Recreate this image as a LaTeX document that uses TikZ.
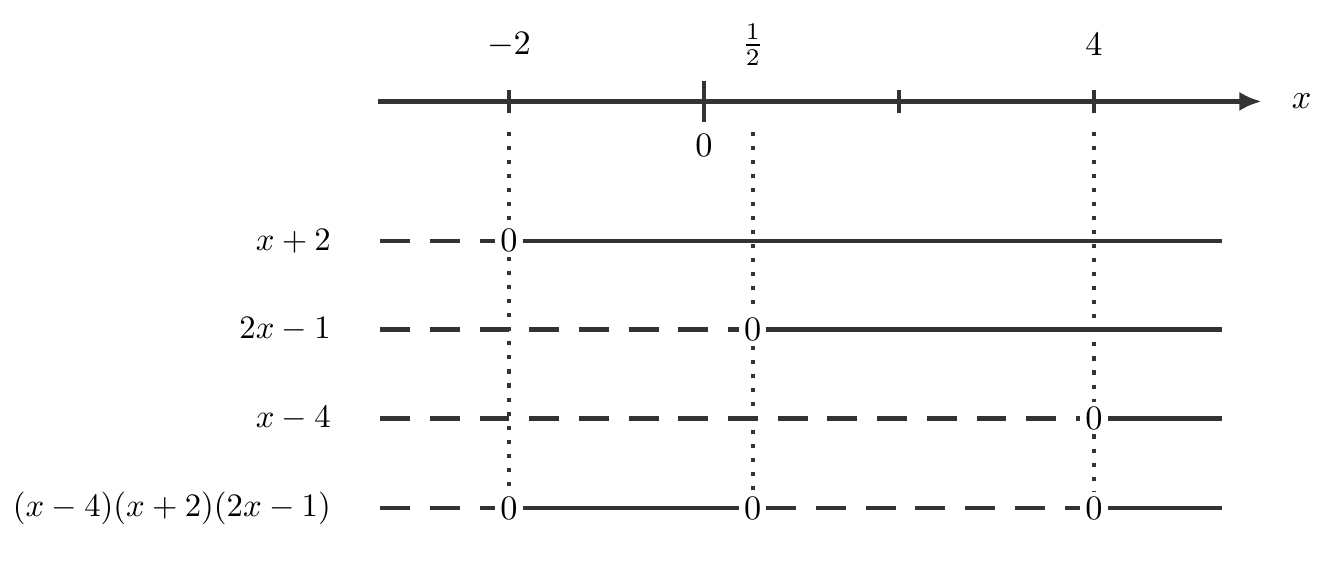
\documentclass[tikz,border=0pt]{standalone}
\usepackage{amsmath}
\usepackage{amssymb}
\usetikzlibrary{arrows.meta}
\definecolor{ink}{HTML}{333333}
\tikzset{axisline/.style={draw=ink, line width=1.3pt}}
\tikzset{signpos/.style={draw=ink, line width=1.3pt}}
\tikzset{signneg/.style={draw=ink, line width=1.3pt, dash pattern=on 8.7pt off 5.8pt}}
\tikzset{guide/.style={draw=ink, line width=1.2pt, dash pattern=on 1.2pt off 2.9pt}}
\tikzset{zero/.style={inner sep=1.3pt}}
\tikzset{factor/.style={anchor=east, inner sep=0pt, scale=0.955}}

\begin{document}
\begin{tikzpicture}
  \useasboundingbox (-7.22,-4.78) rectangle (6.39,1.04);
  % number line
  \coordinate (a0) at (-3.34,0);
  \coordinate (a1) at (5.72,0);
  \draw[axisline, -{Latex[length=6.5pt,width=5.6pt]}] (a0) -- (a1);
  \node (xlab) at (6.13,0) {$x$};
  \foreach \x/\h in {
    -2/0.12,
    0/0.21,
    2/0.12,
    4/0.12%
  } {
    \draw[axisline] (\x,-\h) -- (\x,\h);
  }
  \node (lm2) at (-2,0.58) {$-2$};
  \node (lhalf) at (0.5,0.58) {$\frac{1}{2}$};
  \node (l4) at (4,0.58) {$4$};
  \node (l0) at (0,-0.45) {$0$};
  \foreach \x/\t in {-2/t1, 0.5/t2, 4/t3} {
    \coordinate (\t) at (\x,-0.31);
  }
  % factor rows
  \foreach \r/\y/\lab in {
    1/-1.43/{x+2},
    2/-2.34/{2x-1},
    3/-3.25/{x-4},
    4/-4.17/{(x-4)(x+2)(2x-1)}%
  } {
    \node[factor] (f\r) at (-3.82,\y) {$\lab$};
    \coordinate (s\r) at (-3.32,\y);
    \coordinate (e\r) at (5.31,\y);
  }
  \node[zero] (z1) at (-2,-1.43) {$0$};
  \node[zero] (z2) at (0.5,-2.34) {$0$};
  \node[zero] (z3) at (4,-3.25) {$0$};
  \node[zero] (z4a) at (-2,-4.17) {$0$};
  \node[zero] (z4b) at (0.5,-4.17) {$0$};
  \node[zero] (z4c) at (4,-4.17) {$0$};
  \foreach \u/\v/\st in {
    s1/z1/signneg,
    z1/e1/signpos,
    s2/z2/signneg,
    z2/e2/signpos,
    s3/z3/signneg,
    z3/e3/signpos,
    s4/z4a/signneg,
    z4a/z4b/signpos,
    z4b/z4c/signneg,
    z4c/e4/signpos%
  } {
    \draw[\st] (\u) -- (\v);
  }
  \foreach \u/\v in {
    t1/z1,
    z1/z4a,
    t2/z2,
    z2/z4b,
    t3/z3,
    z3/z4c%
  } {
    \draw[guide] (\u) -- (\v);
  }
\end{tikzpicture}
\end{document}
